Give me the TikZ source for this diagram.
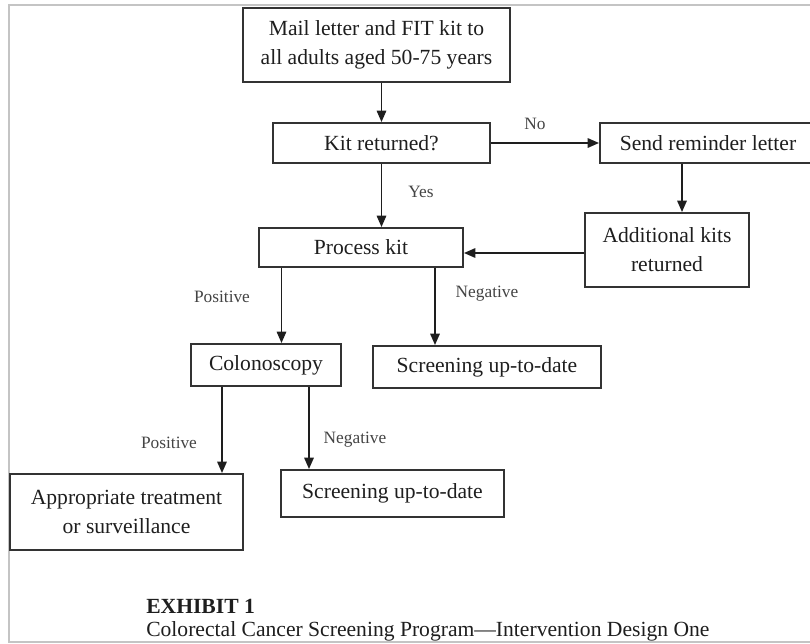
\documentclass[tikz,border=0pt]{standalone}
\usepackage{fontspec}
\setmainfont{Liberation Serif}
\usetikzlibrary{arrows.meta,calc}
\definecolor{framegray}{HTML}{C4C4C4}
\definecolor{boxline}{HTML}{333333}
\definecolor{txt}{HTML}{1E1E1E}
\definecolor{lbl}{HTML}{444444}
\tikzset{
  flowbox/.style={draw=boxline, line width=1.4pt, inner sep=0pt, align=center,
    text=txt, font=\fontsize{16.2}{21.75}\selectfont},
  arr/.style={draw=txt, line width=1.4pt, -{Triangle[length=8.5pt,width=7pt]}},
  lab/.style={text=lbl, font=\fontsize{13}{15}\selectfont, inner sep=0pt},
}
\begin{document}
\begin{tikzpicture}[x=0.75pt,y=-0.75pt]
\useasboundingbox (0,0) rectangle (810,643);
\draw[framegray, line width=1.5pt] (840,5) -- (9,5) -- (9,642) -- (840,642);

\node[flowbox, minimum width=267*0.75pt, minimum height=74*0.75pt] (mail) at (376.5,45)
  {Mail letter and FIT kit to\\all adults aged 50-75 years};
\node[flowbox, minimum width=217*0.75pt, minimum height=40*0.75pt] (kit) at (381.5,143) {Kit returned?};
\node[flowbox, minimum width=216*0.75pt, minimum height=40*0.75pt] (remind) at (708,143) {Send reminder letter};
\node[flowbox, minimum width=164*0.75pt, minimum height=74*0.75pt] (addl) at (667,250) {Additional kits\\returned};
\node[flowbox, minimum width=204*0.75pt, minimum height=39*0.75pt] (proc) at (361,247.5) {Process kit};
\node[flowbox, minimum width=150*0.75pt, minimum height=42*0.75pt] (colon) at (266,365) {Colonoscopy};
\node[flowbox, minimum width=228*0.75pt, minimum height=42*0.75pt] (scrA) at (487,367) {Screening up-to-date};
\node[flowbox, minimum width=233*0.75pt, minimum height=76*0.75pt] (treat) at (126.5,512)
  {Appropriate treatment\\or surveillance};
\node[flowbox, minimum width=223*0.75pt, minimum height=47*0.75pt] (scrB) at (392.5,493.5) {Screening up-to-date};

\coordinate (c1) at (682,0);
\coordinate (c2) at (0,253);
\coordinate (c3) at (281.5,0);
\coordinate (c4) at (435,0);
\coordinate (c5) at (222,0);
\coordinate (c6) at (309,0);

\draw[arr] (mail.south -| kit.north) -- (kit.north);
\draw[arr] (kit.east) -- (remind.west);
\draw[arr] (remind.south -| c1) -- (addl.north -| c1);
\draw[arr] (addl.west |- c2) -- (proc.east |- c2);
\draw[arr] (kit.south) -- (kit.south |- proc.north);
\draw[arr] (proc.south -| c3) -- (colon.north -| c3);
\draw[arr] (proc.south -| c4) -- (scrA.north -| c4);
\draw[arr] (colon.south -| c5) -- (treat.north -| c5);
\draw[arr] (colon.south -| c6) -- (scrB.north -| c6);

\node[lab] (lno) at (535,124) {No};
\node[lab] (lyes) at (421,192) {Yes};
\node[lab] (lpos1) at (222,297) {Positive};
\node[lab] (lneg1) at (487,294) {Negative};
\node[lab] (lpos2) at (169,443) {Positive};
\node[lab] (lneg2) at (355,440) {Negative};

\node[anchor=base west, inner sep=0pt, text=txt, font=\fontsize{16.2}{20}\selectfont\bfseries] (exh) at (146,613) {EXHIBIT 1};
\node[anchor=base west, inner sep=0pt, text=txt, font=\fontsize{16.2}{20}\selectfont] (cap) at (146,636)
  {Colorectal Cancer Screening Program—Intervention Design One};
\end{tikzpicture}
\end{document}
